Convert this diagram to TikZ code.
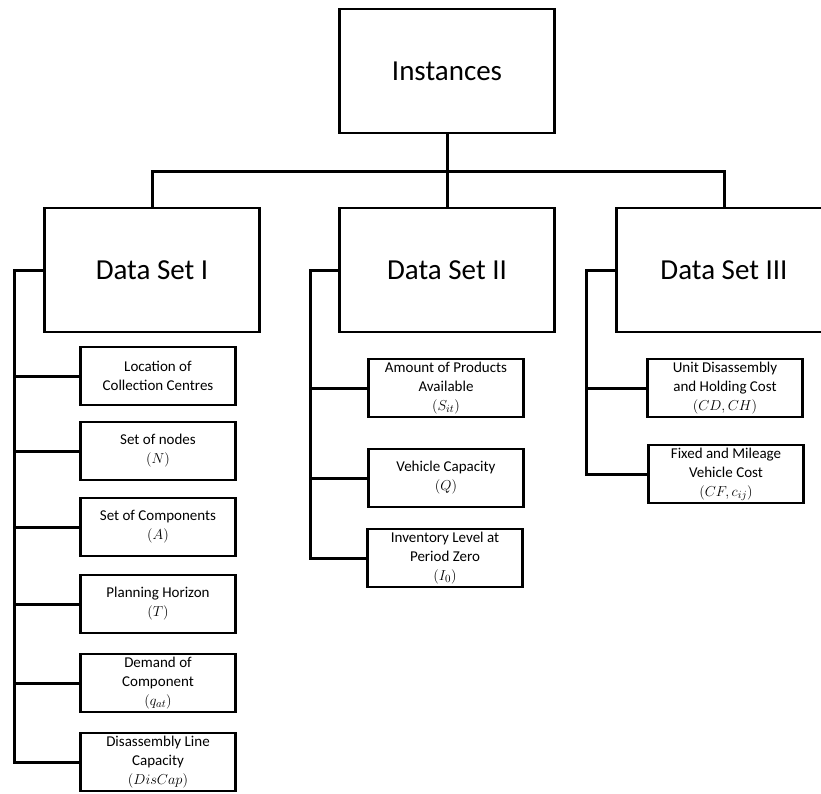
\documentclass[tikz,border=0pt]{standalone}
\usepackage{fontspec}
\setmainfont{Carlito}
\usepackage{tikz}

\tikzset{
  bigbox/.style={draw, line width=2.6pt, minimum width=215pt, minimum height=124pt, inner sep=0pt, font=\fontsize{29}{34}\selectfont},
  itembox/.style={draw, line width=2.6pt, minimum width=155pt, minimum height=58pt, inner sep=0pt, align=center, font=\fontsize{15}{19}\selectfont},
  conn/.style={line width=3pt, line join=miter},
}

\begin{document}
\begin{tikzpicture}[x=1pt, y=-1pt]
  \useasboundingbox (0,0) rectangle (821,794);
  % Top level
  \node[bigbox] (inst) at (447,71) {Instances};
  \node[bigbox] (ds1) at (152,270) {Data Set I};
  \node[bigbox] (ds2) at (447,270) {Data Set II};
  \node[bigbox] (ds3) at (724,270) {Data Set III};
  % Data set I
  \node[itembox] (loc) at (158,376) {Location of\\Collection Centres};
  \node[itembox] (nod) at (158,451) {Set of nodes\\$(N)$};
  \node[itembox] (com) at (158,527) {Set of Components\\$(A)$};
  \node[itembox] (hor) at (158,604) {Planning Horizon\\$(T)$};
  \node[itembox] (dem) at (158,683) {Demand of\\Component\\$(q_{at})$};
  \node[itembox] (cap) at (158,762) {Disassembly Line\\Capacity\\$(DisCap)$};
  % Data set II
  \node[itembox] (prd) at (446,388) {Amount of Products\\Available\\$(S_{it})$};
  \node[itembox] (veh) at (446,478) {Vehicle Capacity\\$(Q)$};
  \node[itembox] (inv) at (445,558) {Inventory Level at\\Period Zero\\$(I_0)$};
  % Data set III
  \node[itembox] (hold) at (725,388) {Unit Disassembly\\and Holding Cost\\$(CD,CH)$};
  \node[itembox] (mile) at (726,474) {Fixed and Mileage\\Vehicle Cost\\$(CF,c_{ij})$};
  % Buses
  \coordinate (top) at (447,172);
  \coordinate (b1) at (14,270);
  \coordinate (b2) at (310,270);
  \coordinate (b3) at (586,270);
  % Connectors
  \draw[conn] (inst.south) -- (ds2.north);
  \draw[conn] (ds1.north) |- (top) -| (ds3.north);
  \foreach \c in {loc,nod,com,hor,dem,cap}
    \draw[conn] (ds1.west) -- (b1) |- (\c.west);
  \foreach \c in {prd,veh,inv}
    \draw[conn] (ds2.west) -- (b2) |- (\c.west);
  \foreach \c in {hold,mile}
    \draw[conn] (ds3.west) -- (b3) |- (\c.west);
\end{tikzpicture}
\end{document}
